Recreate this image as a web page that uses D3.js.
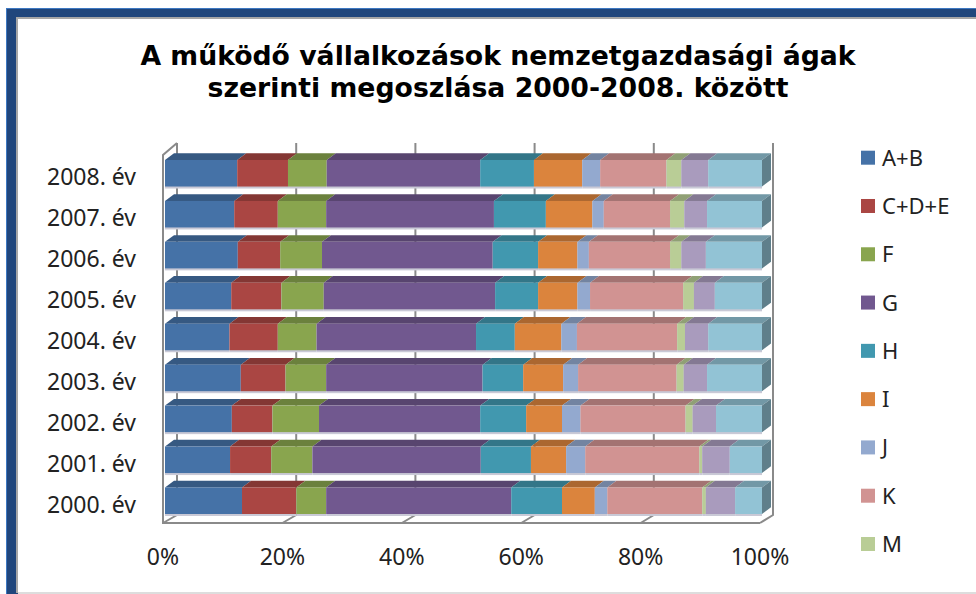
<!DOCTYPE html>
<meta charset="utf-8">
<script src="https://d3js.org/d3.v7.min.js"></script>
<style>
body { margin: 0; background: #fff; }
svg { display: block; }
text { fill: #222; font-family: "Noto Sans", sans-serif; }
.title { fill: #000; font: bold 26.7px "DejaVu Sans", sans-serif; text-anchor: middle; }
.axis text { font-size: 23px; fill: #222; }
.legend text { font-size: 22px; }
.wall { fill: none; stroke: #8a8a8a; stroke-width: 2px; }
</style>
<body>
<script>
var years = ['2008. év', '2007. év', '2006. év', '2005. év', '2004. év', '2003. év', '2002. év', '2001. év', '2000. év'];
var yearOrder = ['2000', '2001', '2002', '2003', '2004', '2005', '2006', '2007', '2008'];

// shares per year in %, 2000 -> 2008
var ab  = [12.9, 10.9, 11.2, 12.7, 10.8, 11.1, 12.2, 11.6, 12.1];
var cde = [ 9.1,  6.9,  6.8,  7.5,  8.1,  8.4,  7.1,  7.3,  8.5];
var f   = [ 5.0,  6.9,  7.8,  6.8,  6.5,  7.1,  7.0,  8.1,  6.5];
var g   = [31.0, 28.2, 27.0, 26.2, 26.7, 28.7, 28.6, 28.1, 25.7];
var h   = [ 8.5,  8.4,  7.7,  6.8,  6.5,  7.2,  7.6,  8.7,  9.0];
var i_  = [ 5.5,  5.9,  6.0,  6.7,  7.8,  6.6,  6.6,  7.8,  8.1];
var j   = [ 2.1,  3.2,  3.1,  2.5,  2.6,  2.1,  1.9,  1.9,  3.0];
var k   = [15.9, 19.1, 17.6, 16.5, 16.8, 15.6, 13.6, 11.1, 11.1];
var m   = [ 0.6,  0.5,  1.2,  1.2,  1.3,  1.8,  1.9,  2.4,  2.5];
// last two series: their legend entries are cropped off in the original
var n   = [ 4.9,  4.6,  3.9,  3.9,  3.9,  3.5,  4.1,  3.8,  4.5];
var o   = [ 4.5,  5.4,  7.7,  9.2,  9.0,  7.9,  9.4,  9.2,  9.0];

var seriesKeys = ['A+B', 'C+D+E', 'F', 'G', 'H', 'I', 'J', 'K', 'M', 'N', 'O'];
var seriesValues = [ab, cde, f, g, h, i_, j, k, m, n, o];
var legendKeys = seriesKeys.slice(0, 9);
var colors = ['#4572a7', '#aa4643', '#89a54e', '#71588f', '#4198af', '#db843d', '#93a9cf', '#d19392', '#b9cd96', '#a99bbd', '#92c3d5'];
var titleLines = ['A működő vállalkozások nemzetgazdasági ágak', 'szerinti megoszlása 2000-2008. között'];
var percentTicks = [0, 0.2, 0.4, 0.6, 0.8, 1];

var width = 976, height = 594;
var depthX = 9, depthY = 6.7; // fake 3d offset of the bars

var svg = d3.select('body').append('svg')
    .attr('width', width)
    .attr('height', height);

// window frame around the pasted chart
var frame = svg.append('g');
frame.append('rect').attr('x', 6).attr('y', 8).attr('width', 970).attr('height', 590).attr('fill', '#3d78c2');
frame.append('rect').attr('x', 7).attr('y', 9).attr('width', 969).attr('height', 590).attr('fill', '#20467c');
frame.append('rect').attr('x', 16).attr('y', 17).attr('width', 960).attr('height', 576).attr('fill', '#a6a6a6');
frame.append('rect').attr('x', 18).attr('y', 19).attr('width', 958).attr('height', 573).attr('fill', '#fff');
frame.append('rect').attr('x', 18).attr('y', 592).attr('width', 958).attr('height', 2).attr('fill', '#ddd');

svg.selectAll('.title')
    .data(titleLines)
    .enter().append('text')
    .attr('class', 'title')
    .attr('x', 498)
    .attr('y', function(d, i) { return 65 + i * 32; })
    .text(function(d) { return d; });

var rows = yearOrder.map(function(y, i) {
    var row = {year: y + '. év'};
    seriesKeys.forEach(function(key, s) { row[key] = seriesValues[s][i]; });
    return row;
});
var stacked = d3.stack().keys(seriesKeys).offset(d3.stackOffsetExpand)(rows);

// three x scales: bar front, back wall and floor edge
var xBar = d3.scaleLinear().domain([0, 1]).range([165, 762]);
var xBack = d3.scaleLinear().domain([0, 1]).range([177, 773]);
var xFloor = d3.scaleLinear().domain([0, 1]).range([163, 760]);
var y = d3.scaleBand().domain(years).range([152.8, 521.2]).paddingInner(0.352).paddingOuter(0.176);
var color = d3.scaleOrdinal().domain(seriesKeys).range(colors);

var wallTop = 143, backBottom = 515, floorY = 523;

// gridlines on the back wall and their slant on the floor
svg.selectAll('.grid')
    .data(percentTicks)
    .enter().append('path')
    .attr('class', 'wall')
    .attr('d', function(d) {
        return 'M' + xBack(d) + ',' + wallTop + 'V' + backBottom + 'L' + xFloor(d) + ',' + floorY;
    });

// left side wall and floor edge
svg.append('path')
    .attr('class', 'wall')
    .attr('d', 'M' + xBack(0) + ',' + wallTop + 'L' + xFloor(0) + ',' + (wallTop + 12) + 'V' + floorY + 'H' + xFloor(1));

var series = svg.selectAll('.series')
    .data(stacked)
    .enter().append('g')
    .attr('class', 'series');

// faint edge under the bars
series.selectAll('.edge')
    .data(function(d) { return d; })
    .enter().append('rect')
    .attr('x', function(d) { return xBar(d[0]); })
    .attr('y', function(d) { return y(d.data.year) + 1; })
    .attr('width', function(d) { return xBar(d[1]) - xBar(d[0]); })
    .attr('height', y.bandwidth() + 1)
    .attr('fill', '#c9c9d6');

// top faces
series.selectAll('.top')
    .data(function(d) { return d; })
    .enter().append('path')
    .attr('d', function(d) {
        var t = y(d.data.year);
        return 'M' + xBar(d[0]) + ',' + t + 'L' + (xBar(d[0]) + depthX) + ',' + (t - depthY) +
            'H' + (xBar(d[1]) + depthX) + 'L' + xBar(d[1]) + ',' + t + 'Z';
    })
    .attr('fill', function() { return d3.color(color(d3.select(this.parentNode).datum().key)).darker(0.7); });

// front faces
series.selectAll('.front')
    .data(function(d) { return d; })
    .enter().append('rect')
    .attr('x', function(d) { return xBar(d[0]); })
    .attr('y', function(d) { return y(d.data.year); })
    .attr('width', function(d) { return xBar(d[1]) - xBar(d[0]); })
    .attr('height', y.bandwidth())
    .attr('fill', function() { return color(d3.select(this.parentNode).datum().key); });

// right end caps, only the last series shows them
svg.append('g').selectAll('path')
    .data(stacked[stacked.length - 1])
    .enter().append('path')
    .attr('d', function(d) {
        var t = y(d.data.year), r = xBar(d[1]);
        return 'M' + r + ',' + t + 'l' + depthX + ',' + (-depthY) + 'v' + y.bandwidth() +
            'l' + (-depthX) + ',' + depthY + 'Z';
    })
    .attr('fill', d3.color(colors[10]).darker(1.2));

var xAxis = d3.axisBottom(xFloor)
    .tickValues(percentTicks)
    .tickFormat(d3.format('.0%'))
    .tickSize(0)
    .tickPadding(0)
    .offset(0);

var xAxisG = svg.append('g')
    .attr('class', 'axis')
    .attr('transform', 'translate(0,548.7)')
    .call(xAxis);
xAxisG.select('.domain').remove();

var yAxis = d3.axisLeft(y).tickSize(0).tickPadding(0).offset(0);

var yAxisG = svg.append('g')
    .attr('class', 'axis')
    .attr('transform', 'translate(136,4.6)')
    .call(yAxis);
yAxisG.select('.domain').remove();

var legendY = d3.scalePoint().domain(legendKeys).range([157.7, 544]);

var legend = svg.append('g').attr('class', 'legend')
    .selectAll('g')
    .data(legendKeys)
    .enter().append('g')
    .attr('transform', function(d) { return 'translate(861,' + legendY(d) + ')'; });

legend.append('rect')
    .attr('y', -7)
    .attr('width', 14)
    .attr('height', 14)
    .attr('fill', function(d) { return color(d); });

legend.append('text')
    .attr('x', 21)
    .attr('y', 8)
    .text(function(d) { return d; });
</script>
</body>
</html>
